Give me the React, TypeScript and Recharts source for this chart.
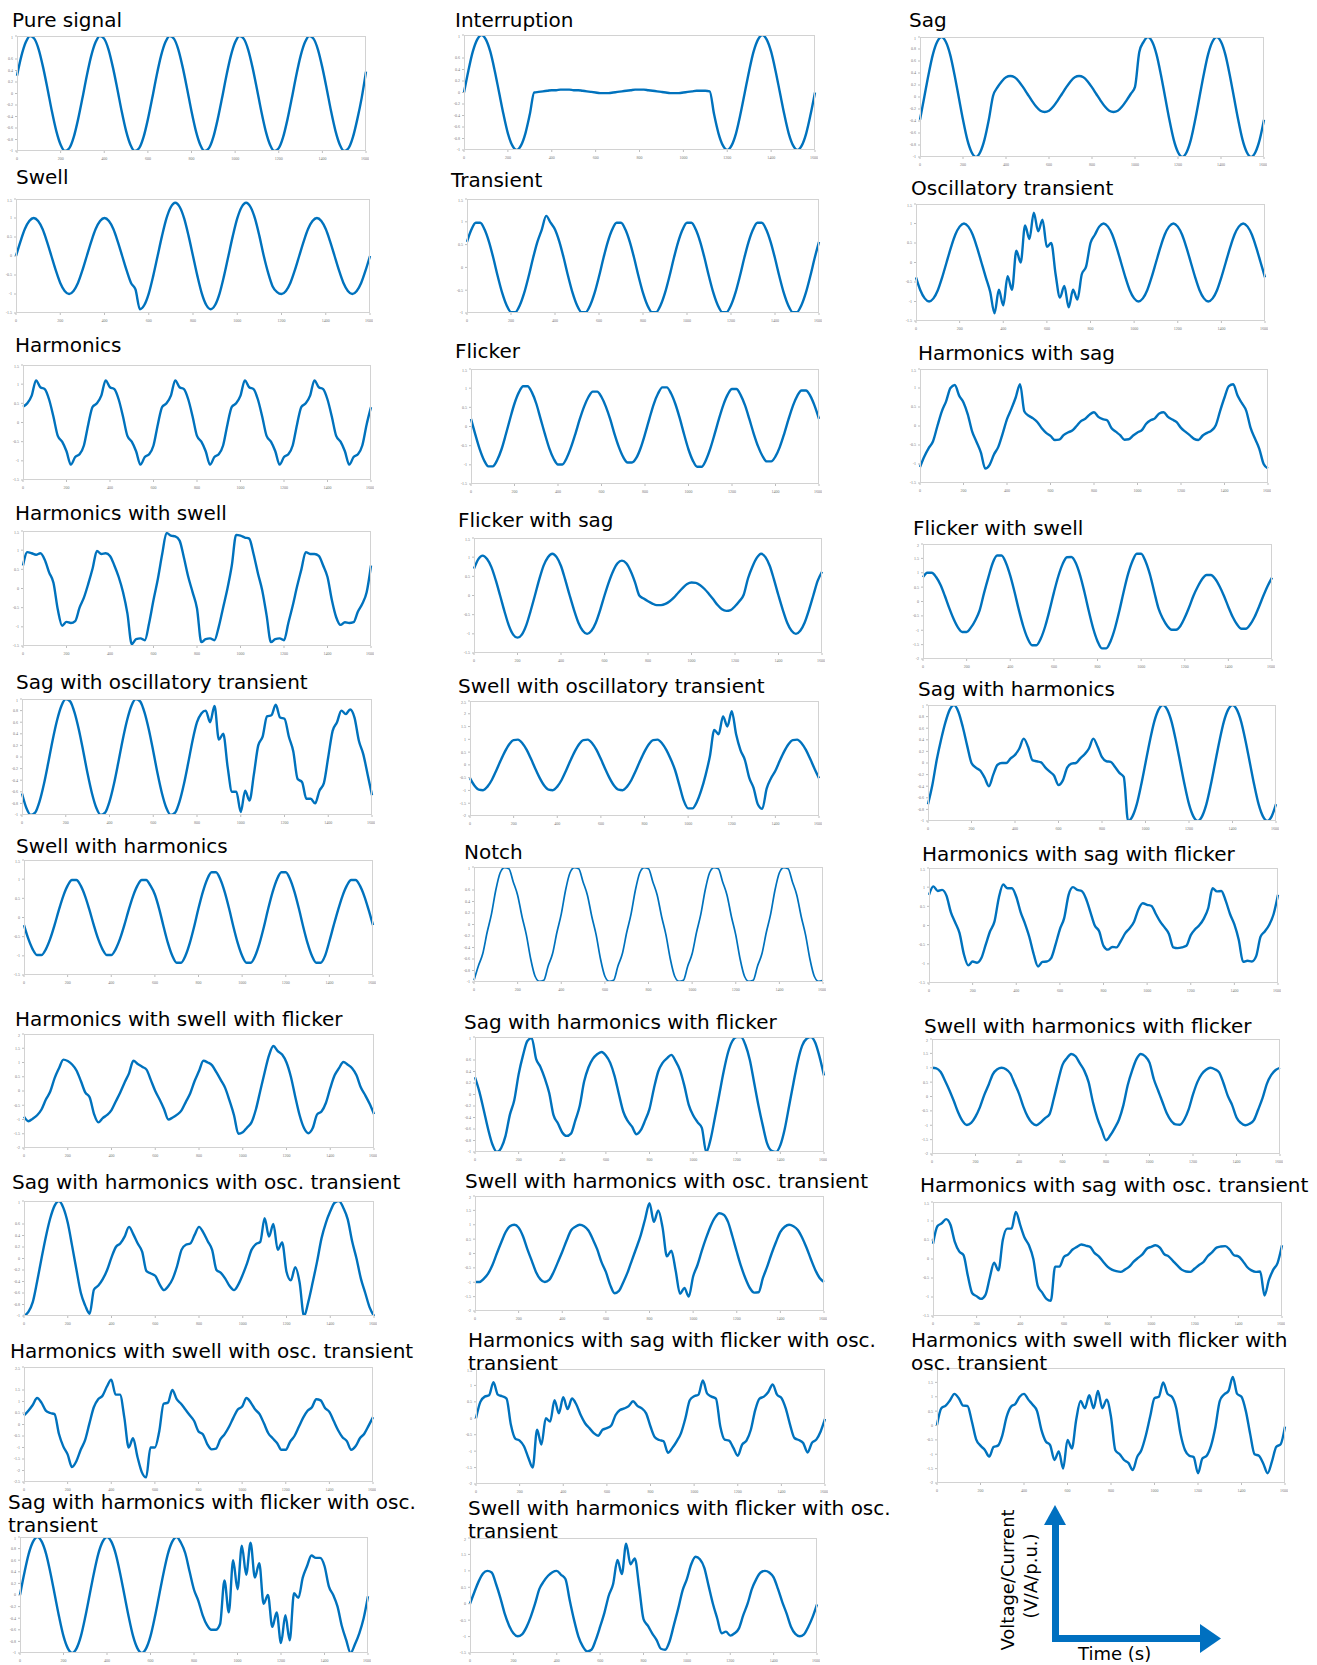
import React from 'react';
import { LineChart, Line, XAxis, YAxis } from 'recharts';

// sample positions shared by every panel (time axis 0..1600)
const timeSteps = [
  0, 20, 40, 60, 80, 100, 120, 140, 160, 180, 200, 220, 240, 260, 280, 300,
  320, 340, 360, 380, 400, 420, 440, 460, 480, 500, 520, 540, 560, 580, 600, 620,
  640, 660, 680, 700, 720, 740, 760, 780, 800, 820, 840, 860, 880, 900, 920, 940,
  960, 980, 1000, 1020, 1040, 1060, 1080, 1100, 1120, 1140, 1160, 1180, 1200, 1220, 1240, 1260,
  1280, 1300, 1320, 1340, 1360, 1380, 1400, 1420, 1440, 1460, 1480, 1500, 1520, 1540, 1560, 1580,
  1600,
];

const xTicks = [0, 200, 400, 600, 800, 1000, 1200, 1400, 1600];
const yTicksUnit = [-1, -0.8, -0.6, -0.4, -0.2, 0, 0.2, 0.4, 0.6, 0.8, 1];
const yTicks15 = [-1.5, -1, -0.5, 0, 0.5, 1, 1.5];
const yTicks2 = [-2, -1.5, -1, -0.5, 0, 0.5, 1, 1.5, 2];
const yTicks25 = [-2.5, -2, -1.5, -1, -0.5, 0, 0.5, 1, 1.5, 2, 2.5];
const yTicksTransient = [-1, -0.5, 0, 0.5, 1, 1.5];
const yTicksSwellOsc = [-2, -1.5, -1, -0.5, 0, 0.5, 1, 1.5, 2, 2.5];
const yTicksLowTop = [-2, -1.5, -1, -0.5, 0, 0.5, 1, 1.5];
const yTicksHighTop = [-1.5, -1, -0.5, 0, 0.5, 1, 1.5, 2];

const pureSignal = [
  0.31, 0.65, 0.89, 1, 0.95, 0.76, 0.45, 0.08, -0.31, -0.65, -0.89, -1, -0.95, -0.76, -0.45, -0.08,
  0.31, 0.65, 0.89, 1, 0.95, 0.76, 0.45, 0.08, -0.31, -0.65, -0.89, -1, -0.95, -0.76, -0.45, -0.08,
  0.31, 0.65, 0.89, 1, 0.95, 0.76, 0.45, 0.08, -0.31, -0.65, -0.89, -1, -0.95, -0.76, -0.45, -0.08,
  0.31, 0.65, 0.89, 1, 0.95, 0.76, 0.45, 0.08, -0.31, -0.65, -0.89, -1, -0.95, -0.76, -0.45, -0.08,
  0.31, 0.65, 0.89, 1, 0.95, 0.76, 0.45, 0.08, -0.31, -0.65, -0.89, -1, -0.95, -0.76, -0.45, -0.08,
  0.38,
];

const interruption = [
  0, 0.38, 0.71, 0.92, 1, 0.92, 0.71, 0.38, 0, -0.38, -0.71, -0.92, -1, -0.92, -0.71, -0.38,
  0, 0.01, 0.02, 0.03, 0.04, 0.04, 0.05, 0.05, 0.05, 0.04, 0.04, 0.03, 0.02, 0.01, 0, -0.01,
  -0.01, -0.01, 0, 0.01, 0.02, 0.03, 0.04, 0.05, 0.05, 0.05, 0.04, 0.03, 0.02, 0.01, 0, -0.01,
  -0.01, -0.01, 0, 0.01, 0.02, 0.03, 0.03, 0.03, 0.02, -0.38, -0.71, -0.92, -1, -0.92, -0.71, -0.38,
  0, 0.38, 0.71, 0.92, 1, 0.92, 0.71, 0.38, 0, -0.38, -0.71, -0.92, -1, -0.92, -0.71, -0.38,
  0,
];

const sag = [
  -0.38, 0, 0.38, 0.71, 0.92, 1, 0.92, 0.71, 0.38, 0, -0.38, -0.71, -0.92, -1, -0.92, -0.71,
  -0.38, 0.02, 0.16, 0.26, 0.33, 0.35, 0.33, 0.26, 0.16, 0.05, -0.06, -0.16, -0.23, -0.25, -0.23, -0.16,
  -0.06, 0.05, 0.16, 0.26, 0.33, 0.35, 0.33, 0.26, 0.16, 0.05, -0.06, -0.16, -0.23, -0.25, -0.23, -0.16,
  -0.06, 0.05, 0.17, 0.75, 0.92, 1, 0.92, 0.71, 0.38, 0, -0.38, -0.71, -0.92, -1, -0.92, -0.71,
  -0.38, 0, 0.38, 0.71, 0.92, 1, 0.92, 0.71, 0.38, 0, -0.38, -0.71, -0.92, -1, -0.92, -0.71,
  -0.38,
];

const swell = [
  0, 0.38, 0.71, 0.92, 1, 0.92, 0.71, 0.38, 0, -0.38, -0.71, -0.92, -1, -0.92, -0.71, -0.38,
  0, 0.38, 0.71, 0.92, 1, 0.92, 0.71, 0.38, 0, -0.38, -0.71, -0.88, -1.4, -1.29, -0.99, -0.53,
  0, 0.53, 0.99, 1.29, 1.4, 1.29, 0.99, 0.53, 0, -0.53, -0.99, -1.29, -1.4, -1.29, -0.99, -0.53,
  0, 0.53, 0.99, 1.29, 1.4, 1.29, 0.99, 0.53, 0, -0.45, -0.8, -0.95, -1, -0.92, -0.71, -0.38,
  0, 0.38, 0.71, 0.92, 1, 0.92, 0.71, 0.38, 0, -0.38, -0.71, -0.92, -1, -0.92, -0.71, -0.38,
  0,
];

const transient = [
  0.56, 0.83, 0.98, 0.98, 0.83, 0.56, 0.2, -0.2, -0.56, -0.83, -0.98, -0.98, -0.83, -0.56, -0.2, 0.2,
  0.56, 0.83, 1.13, 0.98, 0.83, 0.56, 0.2, -0.2, -0.56, -0.83, -0.98, -0.98, -0.83, -0.56, -0.2, 0.2,
  0.56, 0.83, 0.98, 0.98, 0.83, 0.56, 0.2, -0.2, -0.56, -0.83, -0.98, -0.98, -0.83, -0.56, -0.2, 0.2,
  0.56, 0.83, 0.98, 0.98, 0.83, 0.56, 0.2, -0.2, -0.56, -0.83, -0.98, -0.98, -0.83, -0.56, -0.2, 0.2,
  0.56, 0.83, 0.98, 0.98, 0.83, 0.56, 0.2, -0.2, -0.56, -0.83, -0.98, -0.98, -0.83, -0.56, -0.2, 0.2,
  0.56,
];

const oscillatoryTransient = [
  -0.38, -0.71, -0.92, -1, -0.92, -0.71, -0.38, 0, 0.38, 0.71, 0.92, 1, 0.92, 0.71, 0.38, 0,
  -0.38, -0.75, -1.3, -0.7, -1.1, -0.35, -0.7, 0.3, 0, 0.95, 0.6, 1.28, 0.8, 1.1, 0.4, 0.5,
  -0.3, -0.9, -0.6, -1.15, -0.7, -0.95, -0.3, -0.1, 0.5, 0.71, 0.92, 1, 0.92, 0.71, 0.38, 0,
  -0.38, -0.71, -0.92, -1, -0.92, -0.71, -0.38, 0, 0.38, 0.71, 0.92, 1, 0.92, 0.71, 0.38, 0,
  -0.38, -0.71, -0.92, -1, -0.92, -0.71, -0.38, 0, 0.38, 0.71, 0.92, 1, 0.92, 0.71, 0.38, 0,
  -0.38,
];

const harmonics = [
  0.41, 0.5, 0.7, 1.1, 0.92, 0.87, 0.6, 0.15, -0.35, -0.5, -0.75, -1.1, -0.9, -0.83, -0.6, -0.05,
  0.41, 0.5, 0.7, 1.1, 0.92, 0.87, 0.6, 0.15, -0.35, -0.5, -0.75, -1.1, -0.9, -0.83, -0.6, -0.05,
  0.41, 0.5, 0.7, 1.1, 0.92, 0.87, 0.6, 0.15, -0.35, -0.5, -0.75, -1.1, -0.9, -0.83, -0.6, -0.05,
  0.41, 0.5, 0.7, 1.1, 0.92, 0.87, 0.6, 0.15, -0.35, -0.5, -0.75, -1.1, -0.9, -0.83, -0.6, -0.05,
  0.41, 0.5, 0.7, 1.1, 0.92, 0.87, 0.6, 0.15, -0.35, -0.5, -0.75, -1.1, -0.9, -0.83, -0.6, -0.05,
  0.4,
];

const flicker = [
  0.2, -0.21, -0.59, -0.88, -1.04, -1.04, -0.88, -0.6, -0.21, 0.21, 0.6, 0.89, 1.05, 1.05, 0.89, 0.6,
  0.2, -0.2, -0.57, -0.84, -0.99, -0.99, -0.82, -0.54, -0.19, 0.19, 0.52, 0.77, 0.91, 0.91, 0.77, 0.52,
  0.19, -0.2, -0.54, -0.8, -0.94, -0.94, -0.82, -0.56, -0.2, 0.2, 0.58, 0.86, 1.02, 1.02, 0.86, 0.58,
  0.21, -0.21, -0.6, -0.89, -1.05, -1.05, -0.88, -0.58, -0.2, 0.2, 0.56, 0.83, 0.98, 0.98, 0.82, 0.55,
  0.19, -0.19, -0.52, -0.77, -0.91, -0.91, -0.78, -0.53, -0.19, 0.19, 0.54, 0.8, 0.94, 0.94, 0.8, 0.54,
  0.2,
];

const harmonicsWithSag = [
  -1.08, -0.8, -0.58, -0.4, 0, 0.38, 0.65, 1.0, 1.08, 0.8, 0.62, 0.3, -0.15, -0.42, -0.7, -1.12,
  -1.02, -0.75, -0.55, -0.2, 0.18, 0.45, 0.75, 1.1, 0.38, 0.27, 0.2, 0.1, -0.06, -0.18, -0.26, -0.37,
  -0.36, -0.24, -0.17, -0.12, 0, 0.13, 0.19, 0.3, 0.36, 0.24, 0.18, 0.15, -0.05, -0.15, -0.24, -0.36,
  -0.35, -0.25, -0.17, -0.11, 0.06, 0.15, 0.2, 0.33, 0.36, 0.24, 0.17, 0.1, -0.05, -0.15, -0.24, -0.34,
  -0.37, -0.25, -0.18, -0.12, 0.02, 0.4, 0.75, 1.05, 1.1, 0.8, 0.6, 0.4, -0.05, -0.33, -0.6, -1.0,
  -1.12,
];

const harmonicsWithSwell = [
  0.6, 0.95, 0.92, 0.88, 0.92, 0.75, 0.42, 0.15, -0.55, -0.97, -0.87, -0.9, -0.85, -0.5, -0.24, 0.12,
  0.52, 0.98, 0.9, 0.92, 0.85, 0.6, 0.3, -0.1, -0.65, -1.45, -1.32, -1.3, -1.35, -0.9, -0.3, 0.25,
  0.9, 1.45, 1.38, 1.36, 1.25, 0.8, 0.3, -0.1, -0.52, -1.4, -1.32, -1.3, -1.35, -1.0, -0.5, 0,
  0.6, 1.4, 1.38, 1.33, 1.3, 0.9, 0.4, -0.05, -0.7, -1.4, -1.32, -1.3, -1.35, -0.9, -0.45, 0.05,
  0.5, 0.95, 0.9, 0.9, 0.85, 0.6, 0.3, -0.3, -0.75, -0.95, -0.88, -0.9, -0.88, -0.6, -0.4, -0.1,
  0.6,
];

const flickerWithSag = [
  0.7, 0.95, 1.04, 0.95, 0.74, 0.4, 0, -0.41, -0.78, -1.02, -1.1, -1.02, -0.78, -0.41, 0, 0.42,
  0.78, 1.0, 1.09, 1.0, 0.77, 0.4, 0, -0.38, -0.71, -0.92, -1.0, -0.92, -0.71, -0.38, 0, 0.35,
  0.64, 0.84, 0.91, 0.84, 0.64, 0.35, 0, -0.08, -0.15, -0.21, -0.25, -0.25, -0.22, -0.15, -0.05, 0.08,
  0.2, 0.3, 0.34, 0.33, 0.27, 0.17, 0.04, -0.1, -0.25, -0.36, -0.4, -0.38, -0.28, -0.15, 0.02, 0.45,
  0.75, 0.98, 1.09, 1.0, 0.77, 0.4, 0, -0.38, -0.71, -0.92, -1.0, -0.92, -0.71, -0.38, 0, 0.38,
  0.62,
];

const flickerWithSwell = [
  0.85, 1.0, 1.0, 0.85, 0.58, 0.2, -0.22, -0.6, -0.9, -1.06, -1.06, -0.9, -0.65, -0.3, 0.3, 0.85,
  1.35, 1.6, 1.6, 1.35, 0.9, 0.32, -0.31, -0.87, -1.29, -1.52, -1.52, -1.29, -0.87, -0.31, 0.31, 0.87,
  1.3, 1.54, 1.55, 1.35, 0.92, 0.33, -0.33, -0.93, -1.38, -1.63, -1.63, -1.38, -0.93, -0.33, 0.34, 0.95,
  1.4, 1.66, 1.66, 1.4, 0.95, 0.34, -0.25, -0.6, -0.85, -0.98, -0.98, -0.85, -0.56, -0.2, 0.2, 0.52,
  0.78, 0.92, 0.92, 0.78, 0.52, 0.19, -0.19, -0.54, -0.8, -0.95, -0.95, -0.8, -0.54, -0.19, 0.19, 0.54,
  0.83,
];

const sagWithOscTransient = [
  -0.63, -0.88, -1, -0.96, -0.77, -0.47, -0.1, 0.29, 0.63, 0.88, 1, 0.96, 0.77, 0.47, 0.1, -0.29,
  -0.63, -0.88, -1, -0.96, -0.77, -0.47, -0.1, 0.29, 0.63, 0.88, 1, 0.96, 0.77, 0.47, 0.1, -0.29,
  -0.63, -0.88, -1, -0.96, -0.77, -0.47, -0.1, 0.29, 0.6, 0.75, 0.8, 0.6, 0.88, 0.3, 0.4, -0.17,
  -0.6, -0.6, -0.95, -0.58, -0.75, -0.3, 0.2, 0.35, 0.7, 0.72, 0.9, 0.68, 0.66, 0.35, 0.1, -0.38,
  -0.43, -0.72, -0.72, -0.8, -0.58, -0.45, 0, 0.45, 0.6, 0.8, 0.74, 0.82, 0.68, 0.28, 0.05, -0.3,
  -0.66,
];

const swellWithOscTransient = [
  -0.52, -0.81, -0.97, -0.99, -0.85, -0.59, -0.23, 0.16, 0.52, 0.81, 0.97, 0.99, 0.85, 0.59, 0.23, -0.16,
  -0.52, -0.81, -0.97, -0.99, -0.85, -0.59, -0.23, 0.16, 0.52, 0.81, 0.97, 0.99, 0.85, 0.59, 0.23, -0.16,
  -0.52, -0.81, -0.97, -0.99, -0.85, -0.59, -0.23, 0.16, 0.52, 0.81, 0.97, 0.99, 0.85, 0.59, 0.23, -0.2,
  -0.8, -1.4, -1.7, -1.7, -1.45, -1.0, -0.4, 0.35, 1.37, 1.2, 1.9, 1.5, 2.1, 1.2, 0.58, 0.2,
  -0.5, -0.9, -1.55, -1.72, -0.93, -0.52, -0.23, 0.16, 0.52, 0.81, 0.97, 0.99, 0.85, 0.59, 0.23, -0.16,
  -0.52,
];

const sagWithHarmonics = [
  -0.71, -0.38, 0.05, 0.4, 0.7, 0.92, 1.0, 0.88, 0.62, 0.3, 0, -0.08, -0.13, -0.25, -0.4, -0.2,
  -0.03, 0, 0, 0.08, 0.14, 0.25, 0.42, 0.28, 0.05, 0.03, 0.01, -0.08, -0.15, -0.22, -0.38, -0.3,
  -0.08, -0.01, 0, 0.08, 0.15, 0.25, 0.42, 0.28, 0.1, 0.03, 0.02, -0.07, -0.17, -0.24, -1.0, -0.92,
  -0.71, -0.38, 0, 0.38, 0.71, 0.92, 1, 0.92, 0.71, 0.38, 0, -0.38, -0.71, -0.92, -1, -0.92,
  -0.71, -0.38, 0, 0.38, 0.71, 0.92, 1, 0.92, 0.71, 0.38, 0, -0.38, -0.71, -0.92, -1, -0.92,
  -0.71,
];

const swellWithHarmonics = [
  -0.2, -0.56, -0.83, -0.98, -0.98, -0.83, -0.56, -0.2, 0.2, 0.56, 0.83, 0.98, 0.98, 0.83, 0.56, 0.2,
  -0.2, -0.56, -0.83, -0.98, -0.98, -0.83, -0.56, -0.2, 0.2, 0.56, 0.83, 0.98, 0.98, 0.83, 0.6, 0.22,
  -0.24, -0.67, -1.0, -1.18, -1.18, -1.0, -0.67, -0.24, 0.24, 0.67, 1.0, 1.18, 1.18, 1.0, 0.67, 0.24,
  -0.24, -0.67, -1.0, -1.18, -1.18, -1.0, -0.67, -0.24, 0.24, 0.67, 1.0, 1.18, 1.18, 1.0, 0.67, 0.24,
  -0.24, -0.67, -1.0, -1.18, -1.18, -1.0, -0.62, -0.2, 0.2, 0.56, 0.83, 0.98, 0.98, 0.83, 0.56, 0.2,
  -0.2,
];

const notch = [
  -0.97, -0.72, -0.51, -0.14, 0.18, 0.6, 0.9, 0.99, 0.97, 0.74, 0.51, 0.14, -0.18, -0.6, -0.9, -0.99,
  -0.97, -0.72, -0.51, -0.14, 0.18, 0.6, 0.9, 0.99, 0.97, 0.74, 0.51, 0.14, -0.18, -0.6, -0.9, -0.99,
  -0.97, -0.72, -0.51, -0.14, 0.18, 0.6, 0.9, 0.99, 0.97, 0.74, 0.51, 0.14, -0.18, -0.6, -0.9, -0.99,
  -0.97, -0.72, -0.51, -0.14, 0.18, 0.6, 0.9, 0.99, 0.97, 0.74, 0.51, 0.14, -0.18, -0.6, -0.9, -0.99,
  -0.97, -0.72, -0.51, -0.14, 0.18, 0.6, 0.9, 0.99, 0.97, 0.74, 0.51, 0.14, -0.18, -0.6, -0.9, -0.99,
  -0.97,
];

const harmonicsSagFlicker = [
  0.8, 1.02, 0.9, 0.93, 0.78, 0.35, 0.08, -0.2, -0.75, -1.04, -0.94, -0.97, -0.85, -0.5, -0.15, 0.1,
  0.72, 1.07, 0.97, 0.97, 0.75, 0.35, 0.05, -0.3, -0.75, -1.07, -0.95, -0.94, -0.85, -0.5, -0.1, 0.2,
  0.8, 1.0, 0.93, 0.9, 0.7, 0.35, 0, -0.15, -0.53, -0.63, -0.56, -0.57, -0.4, -0.2, -0.07, 0.1,
  0.42, 0.58, 0.54, 0.51, 0.3, 0.1, -0.05, -0.22, -0.57, -0.59, -0.57, -0.53, -0.25, -0.1, 0.01, 0.18,
  0.45, 0.97, 0.89, 0.9, 0.65, 0.3, 0.03, -0.37, -0.95, -0.92, -0.94, -0.8, -0.29, -0.15, 0.02, 0.3,
  0.8,
];

const harmonicsSwellFlicker = [
  -0.9, -1.06, -0.97, -0.85, -0.65, -0.3, -0.02, 0.45, 0.8, 1.1, 1.05, 0.93, 0.72, 0.35, -0.05, -0.22,
  -0.8, -1.1, -0.95, -0.84, -0.67, -0.36, -0.05, 0.3, 0.62, 1.06, 0.95, 0.85, 0.75, 0.38, 0, -0.3,
  -0.63, -1.0, -0.93, -0.83, -0.68, -0.38, -0.08, 0.35, 0.7, 1.06, 1.0, 0.9, 0.65, 0.38, 0.1, -0.35,
  -0.85, -1.5, -1.45, -1.28, -1.1, -0.65, 0, 0.65, 1.25, 1.58, 1.4, 1.28, 1.0, 0.5, -0.2, -0.85,
  -1.3, -1.48, -1.3, -0.82, -0.72, -0.42, 0.1, 0.55, 0.8, 1.02, 0.92, 0.8, 0.55, 0.12, -0.15, -0.45,
  -0.81,
];

const sagHarmonicsFlicker = [
  0.3, 0.05, -0.27, -0.6, -0.87, -1.0, -0.93, -0.72, -0.35, -0.1, 0.35, 0.68, 0.93, 0.98, 0.62, 0.48,
  0.28, 0.03, -0.36, -0.5, -0.66, -0.72, -0.68, -0.45, -0.2, 0.22, 0.47, 0.62, 0.7, 0.74, 0.68, 0.55,
  0.32, 0, -0.3, -0.46, -0.56, -0.69, -0.62, -0.45, -0.25, 0.1, 0.4, 0.55, 0.63, 0.69, 0.58, 0.42,
  0.15, -0.18, -0.36, -0.48, -0.58, -1.0, -0.78, -0.4, 0, 0.4, 0.73, 0.93, 1.0, 1.0, 0.86, 0.6,
  0.2, -0.2, -0.55, -0.86, -0.98, -1.0, -0.88, -0.6, -0.2, 0.2, 0.58, 0.85, 0.97, 1.0, 0.9, 0.65,
  0.33,
];

const swellHarmonicsFlicker = [
  1.0, 0.98, 0.85, 0.55, 0.22, -0.15, -0.55, -0.85, -0.99, -0.92, -0.7, -0.38, 0.05, 0.4, 0.78, 0.95,
  1.0, 0.95, 0.8, 0.45, 0.1, -0.35, -0.7, -0.92, -1.0, -0.9, -0.75, -0.62, -0.07, 0.55, 1.1, 1.33,
  1.48, 1.4, 1.15, 0.9, 0.5, -0.2, -0.75, -1.15, -1.52, -1.35, -1.1, -0.8, -0.3, 0.4, 0.9, 1.3,
  1.48, 1.4, 1.18, 0.6, 0.2, -0.2, -0.59, -0.85, -0.97, -0.98, -0.8, -0.45, 0.07, 0.5, 0.78, 0.93,
  1.0, 0.95, 0.84, 0.47, 0.02, -0.3, -0.73, -0.92, -1.0, -0.95, -0.82, -0.45, -0.05, 0.45, 0.75, 0.92,
  1.0,
];

const sagHarmonicsOsc = [
  -1.0, -0.93, -0.76, -0.4, 0, 0.38, 0.7, 0.92, 1.0, 0.88, 0.62, 0.22, -0.2, -0.6, -0.82, -0.96,
  -0.54, -0.47, -0.36, -0.2, 0.02, 0.2, 0.26, 0.38, 0.55, 0.42, 0.26, 0.12, -0.22, -0.26, -0.3, -0.45,
  -0.55, -0.48, -0.35, -0.13, 0.15, 0.24, 0.26, 0.41, 0.55, 0.45, 0.3, 0.15, -0.2, -0.25, -0.35, -0.48,
  -0.55, -0.45, -0.28, -0.08, 0.15, 0.25, 0.29, 0.7, 0.38, 0.6, 0.15, 0.28, -0.23, -0.38, -0.15, -0.42,
  -1.0, -0.75, -0.41, -0.05, 0.35, 0.62, 0.82, 0.97, 1.0, 0.88, 0.68, 0.3, 0, -0.35, -0.6, -0.85,
  -1.0,
];

const swellHarmonicsOsc = [
  -0.99, -0.99, -0.88, -0.7, -0.4, 0, 0.38, 0.74, 0.95, 1.0, 0.9, 0.6, 0.15, -0.25, -0.65, -0.9,
  -0.99, -0.92, -0.65, -0.3, 0.06, 0.45, 0.8, 0.93, 1.0, 0.95, 0.8, 0.5, 0.15, -0.3, -0.64, -1.1,
  -1.38, -1.3, -1.0, -0.65, -0.22, 0.2, 0.64, 1.2, 1.75, 1.1, 1.5, 0.9, -0.1, 0.1, -0.6, -1.4,
  -1.2, -1.5, -0.8, -0.4, 0.1, 0.55, 0.95, 1.25, 1.4, 1.35, 1.1, 0.6, 0.06, -0.45, -0.87, -1.2,
  -1.36, -1.35, -0.85, -0.45, 0, 0.4, 0.75, 0.93, 1.0, 0.95, 0.82, 0.55, 0.2, -0.2, -0.57, -0.85,
  -0.99,
];

const harmonicsSagOsc = [
  0.4, 0.86, 0.94, 1.05, 0.9, 0.45, 0.2, 0.1, -0.45, -0.9, -0.98, -1.05, -0.95, -0.5, -0.1, -0.3,
  0.5, 0.8, 0.8, 1.24, 0.89, 0.56, 0.36, 0, -0.7, -0.88, -1.05, -1.1, -0.2, -0.2, 0.05, 0.12,
  0.25, 0.32, 0.38, 0.35, 0.32, 0.16, 0.07, -0.07, -0.2, -0.28, -0.32, -0.34, -0.28, -0.2, -0.07, 0.03,
  0.12, 0.27, 0.32, 0.36, 0.3, 0.13, 0.07, -0.05, -0.17, -0.28, -0.33, -0.34, -0.25, -0.16, -0.08, 0.08,
  0.18, 0.3, 0.33, 0.34, 0.25, 0.1, 0.07, -0.05, -0.21, -0.3, -0.34, -0.33, -0.96, -0.55, -0.28, -0.1,
  0.36,
];

const harmonicsSwellOsc = [
  0.39, 0.6, 0.85, 1.15, 0.95, 0.6, 0.5, 0.45, -0.4, -0.95, -1.3, -1.85, -1.6, -1.1, -0.68, 0.05,
  0.75, 1.1, 1.25, 1.65, 1.95, 1.3, 1.3, 0.3, -1.0, -0.6, -1.4, -2.07, -2.3, -1.0, -1.0, -0.3,
  0.9, 0.95, 1.5, 1.1, 0.9, 0.65, 0.4, 0.15, -0.3, -0.42, -0.85, -1.08, -1.05, -0.65, -0.42, -0.1,
  0.3, 0.65, 0.78, 1.15, 0.95, 0.65, 0.45, 0.05, -0.38, -0.6, -0.8, -1.1, -1.1, -0.75, -0.5, -0.1,
  0.3, 0.6, 0.75, 1.1, 1.05, 0.72, 0.55, 0.15, -0.25, -0.55, -0.72, -1.1, -0.95, -0.6, -0.4, -0.05,
  0.32,
];

const harmonicsSagFlickerOsc = [
  0, 0.5, 0.66, 0.7, 1.1, 0.72, 0.67, 0.6, -0.2, -0.62, -0.68, -0.85, -1.2, -1.5, -0.35, -0.8,
  0, -0.1, 0.55, 0.15, 0.64, 0.28, 0.6, 0.42, 0.1, -0.15, -0.3, -0.45, -0.53, -0.35, -0.3, -0.22,
  0.1, 0.25, 0.3, 0.37, 0.52, 0.38, 0.3, 0.15, -0.25, -0.58, -0.66, -0.7, -1.05, -0.9, -0.7, -0.45,
  0, 0.55, 0.67, 0.72, 1.15, 0.75, 0.66, 0.6, -0.25, -0.65, -0.68, -0.9, -1.14, -0.8, -0.68, -0.35,
  0.25, 0.6, 0.66, 0.8, 1.03, 0.72, 0.62, 0.3, -0.2, -0.6, -0.66, -0.75, -1.04, -0.75, -0.65, -0.4,
  -0.02,
];

const harmonicsSwellFlickerOsc = [
  0.02, 0.6, 0.69, 0.88, 1.1, 0.95, 0.69, 0.68, 0.15, -0.48, -0.7, -0.85, -1.08, -0.75, -0.7, -0.35,
  0.3, 0.65, 0.75, 1.0, 1.1, 0.9, 0.72, 0.5, -0.15, -0.55, -0.68, -1.2, -0.9, -1.5, -0.5, -0.8,
  0.2, 0.85, 0.6, 1.05, 0.6, 1.2, 0.6, 0.9, 0.3, -0.86, -1.0, -1.2, -1.3, -1.55, -1.1, -0.85,
  -0.35, 0.31, 0.95, 1.0, 1.5, 1.1, 1.0, 0.6, -0.3, -0.85, -1.05, -1.1, -1.66, -1.15, -1.05, -0.7,
  -0.05, 0.85, 1.08, 1.2, 1.69, 1.1, 1.0, 0.5, -0.3, -1.0, -1.05, -1.32, -1.66, -1.25, -0.74, -0.65,
  -0.04,
];

const sagHarmonicsFlickerOsc = [
  0, 0.38, 0.71, 0.92, 1, 0.92, 0.71, 0.38, 0, -0.38, -0.71, -0.92, -1, -0.92, -0.71, -0.38,
  0, 0.38, 0.71, 0.92, 1, 0.92, 0.71, 0.38, 0, -0.38, -0.71, -0.92, -1, -0.92, -0.71, -0.38,
  0, 0.38, 0.71, 0.92, 1.0, 0.9, 0.72, 0.4, 0.09, -0.1, -0.35, -0.52, -0.6, -0.6, -0.5, 0.25,
  -0.3, 0.6, 0.1, 0.85, 0.35, 0.9, 0.3, 0.55, -0.15, 0, -0.55, -0.3, -0.83, -0.35, -0.78, 0.03,
  -0.05, 0.3, 0.5, 0.68, 0.64, 0.64, 0.5, 0.15, 0, -0.2, -0.54, -0.78, -1.0, -0.85, -0.66, -0.4,
  -0.02,
];

const swellHarmonicsFlickerOsc = [
  0, 0.35, 0.68, 0.92, 1.0, 0.95, 0.6, 0.18, -0.3, -0.66, -0.9, -0.99, -0.93, -0.72, -0.4, 0,
  0.45, 0.68, 0.85, 0.96, 1.0, 0.88, 0.75, 0.1, -0.5, -1.0, -1.3, -1.45, -1.4, -1.1, -0.7, -0.27,
  0.25, 0.6, 1.33, 0.9, 1.83, 1.2, 1.38, 0.5, -0.47, -0.67, -0.9, -1.1, -1.37, -1.4, -1.15, -0.65,
  -0.15, 0.4, 0.75, 1.2, 1.43, 1.35, 1.1, 0.55, 0, -0.45, -0.9, -0.85, -0.97, -0.9, -0.75, -0.35,
  0, 0.45, 0.75, 0.95, 1.0, 0.95, 0.8, 0.45, 0.05, -0.3, -0.7, -0.92, -0.99, -0.93, -0.7, -0.4,
  -0.02,
];

// box = [left, top, width, height] of the plot frame; title = [left, top]
const panels = [
  { title: 'Pure signal', at: [12, 9], box: [17, 36, 349, 115], values: pureSignal, ticks: yTicksUnit },
  { title: 'Interruption', at: [455, 9], box: [464, 35, 351, 115], values: interruption, ticks: yTicksUnit },
  { title: 'Sag', at: [909, 9], box: [920, 37, 344, 120], values: sag, ticks: yTicksUnit },
  { title: 'Swell', at: [16, 166], box: [16, 199, 354, 114], values: swell, ticks: yTicks15 },
  { title: 'Transient', at: [451, 169], box: [467, 199, 352, 114], values: transient, ticks: yTicksTransient },
  { title: 'Oscillatory transient', at: [911, 177], box: [916, 204, 349, 117], values: oscillatoryTransient, ticks: yTicks15 },
  { title: 'Harmonics', at: [15, 334], box: [23, 365, 348, 115], values: harmonics, ticks: yTicks15 },
  { title: 'Flicker', at: [455, 340], box: [471, 369, 348, 115], values: flicker, ticks: yTicks15 },
  { title: 'Harmonics with sag', at: [918, 342], box: [920, 369, 348, 114], values: harmonicsWithSag, ticks: yTicks15 },
  { title: 'Harmonics with swell', at: [15, 502], box: [23, 531, 348, 115], values: harmonicsWithSwell, ticks: yTicks15 },
  { title: 'Flicker with sag', at: [458, 509], box: [474, 538, 348, 115], values: flickerWithSag, ticks: yTicks15 },
  { title: 'Flicker with swell', at: [913, 517], box: [923, 544, 349, 115], values: flickerWithSwell, ticks: yTicks2 },
  { title: 'Sag with oscillatory transient', at: [16, 671], box: [22, 699, 350, 116], values: sagWithOscTransient, ticks: yTicksUnit },
  { title: 'Swell with oscillatory transient', at: [458, 675], box: [470, 701, 349, 115], values: swellWithOscTransient, ticks: yTicksSwellOsc },
  { title: 'Sag with harmonics', at: [918, 678], box: [928, 705, 348, 116], values: sagWithHarmonics, ticks: yTicksUnit },
  { title: 'Swell with harmonics', at: [16, 835], box: [24, 860, 349, 115], values: swellWithHarmonics, ticks: yTicks15 },
  { title: 'Notch', at: [464, 841], box: [474, 867, 349, 115], values: notch, ticks: yTicksUnit, thin: true },
  { title: 'Harmonics with sag with flicker', at: [922, 843], box: [929, 868, 349, 115], values: harmonicsSagFlicker, ticks: yTicks15 },
  { title: 'Harmonics with swell with flicker', at: [15, 1008], box: [24, 1034, 350, 114], values: harmonicsSwellFlicker, ticks: yTicks2 },
  { title: 'Sag with harmonics with flicker', at: [464, 1011], box: [475, 1037, 349, 115], values: sagHarmonicsFlicker, ticks: yTicksUnit },
  { title: 'Swell with harmonics with flicker', at: [924, 1015], box: [932, 1039, 348, 115], values: swellHarmonicsFlicker, ticks: yTicks2 },
  { title: 'Sag with harmonics with osc. transient', at: [12, 1171], box: [24, 1201, 350, 115], values: sagHarmonicsOsc, ticks: yTicksUnit },
  { title: 'Swell with harmonics with osc. transient', at: [465, 1170], box: [475, 1196, 349, 115], values: swellHarmonicsOsc, ticks: yTicks2 },
  { title: 'Harmonics with sag with osc. transient', at: [920, 1174], box: [933, 1202, 349, 114], values: harmonicsSagOsc, ticks: yTicks15 },
  { title: 'Harmonics with swell with osc. transient', at: [10, 1340], box: [24, 1367, 349, 115], values: harmonicsSwellOsc, ticks: yTicks25 },
  { title: 'Harmonics with sag with flicker with osc.\ntransient', at: [468, 1329], box: [476, 1369, 349, 115], values: harmonicsSagFlickerOsc, ticks: yTicksLowTop },
  { title: 'Harmonics with swell with flicker with\nosc. transient', at: [911, 1329], box: [937, 1368, 348, 115], values: harmonicsSwellFlickerOsc, ticks: yTicks2 },
  { title: 'Sag with harmonics with flicker with osc.\ntransient', at: [8, 1491], box: [20, 1537, 348, 116], values: sagHarmonicsFlickerOsc, ticks: yTicksUnit },
  { title: 'Swell with harmonics with flicker with osc.\ntransient', at: [468, 1497], box: [470, 1538, 347, 115], values: swellHarmonicsFlickerOsc, ticks: yTicksHighTop },
];

const BLUE = '#0072BD';
const FONT = '"DejaVu Sans", Verdana, sans-serif';
const PAD_L = 13;
const PAD_B = 11;

function Panel({ p }: { p: any }) {
  const [x, y, w, h] = p.box;
  const rows = p.values.map((v: number, i: number) => ({ t: timeSteps[i], v }));
  const lo = p.ticks[0];
  const hi = p.ticks[p.ticks.length - 1];
  return (
    <>
      <div style={{ position: 'absolute', left: x - PAD_L, top: y - 1 }}>
        <LineChart
          width={w + PAD_L + 3}
          height={h + PAD_B + 1}
          data={rows}
          margin={{ top: 1, right: 3, bottom: 0, left: 0 }}
        >
          <XAxis
            dataKey="t"
            type="number"
            domain={[0, 1600]}
            ticks={xTicks}
            height={PAD_B}
            axisLine={false}
            tickSize={2}
            tickLine={{ stroke: '#bdbdbd' }}
            tick={{ fontSize: 4, fill: '#777' }}
            tickMargin={4}
          />
          <YAxis
            type="number"
            domain={[lo, hi]}
            ticks={p.ticks}
            allowDataOverflow
            width={PAD_L}
            axisLine={false}
            tickSize={2}
            tickLine={{ stroke: '#bdbdbd' }}
            tick={{ fontSize: 4, fill: '#777' }}
            tickMargin={2}
          />
          <Line
            type="monotone"
            dataKey="v"
            stroke={BLUE}
            strokeWidth={p.thin ? 1.7 : 2.4}
            dot={false}
            isAnimationActive={false}
          />
        </LineChart>
      </div>
      {/* matlab style frame */}
      <div
        style={{
          position: 'absolute',
          left: x,
          top: y,
          width: w,
          height: h,
          border: '1px solid #d2d2d2',
          boxSizing: 'border-box',
          pointerEvents: 'none',
        }}
      />
      <div
        style={{
          position: 'absolute',
          left: p.at[0],
          top: p.at[1],
          fontFamily: FONT,
          fontSize: 20,
          lineHeight: '23px',
          color: '#000',
          whiteSpace: 'pre',
        }}
      >
        {p.title}
      </div>
    </>
  );
}

function AxesKey() {
  return (
    <svg
      width={300}
      height={175}
      viewBox="940 1490 300 175"
      style={{ position: 'absolute', left: 940, top: 1490 }}
    >
      <rect x={1052} y={1522} width={7} height={120} fill="#0070C0" />
      <polygon points="1044,1525 1066,1525 1055,1505" fill="#0070C0" />
      <rect x={1052} y={1635} width={150} height={7} fill="#0070C0" />
      <polygon points="1200,1624 1200,1653 1221,1638.5" fill="#0070C0" />
      <text
        x={1007}
        y={1580}
        transform="rotate(-90 1007 1580)"
        textAnchor="middle"
        dominantBaseline="central"
        fontFamily={FONT}
        fontSize={18}
        fill="#000"
      >
        Voltage/Current
      </text>
      <text
        x={1030}
        y={1576}
        transform="rotate(-90 1030 1576)"
        textAnchor="middle"
        dominantBaseline="central"
        fontFamily={FONT}
        fontSize={18}
        fill="#000"
      >
        (V/A/p.u.)
      </text>
      <text x={1078} y={1660} fontFamily={FONT} fontSize={18} fill="#000">
        Time (s)
      </text>
    </svg>
  );
}

export default function App() {
  return (
    <div
      style={{
        position: 'absolute',
        left: 0,
        top: 0,
        width: 1317,
        height: 1665,
        background: '#fff',
        overflow: 'hidden',
      }}
    >
      {panels.map((p) => (
        <Panel key={p.title} p={p} />
      ))}
      <AxesKey />
    </div>
  );
}
